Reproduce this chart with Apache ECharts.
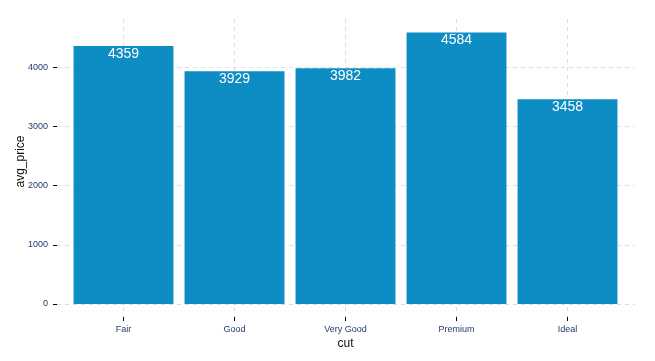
<!DOCTYPE html>
<html>
<head>
<meta charset="utf-8">
<script src="https://cdn.jsdelivr.net/npm/echarts@6/dist/echarts.min.js"></script>
<style>html,body{margin:0;padding:0;background:#fff}#c{width:655px;height:361px}</style>
</head>
<body>
<div id="c"></div>
<script>
const categories = ['Fair', 'Good', 'Very Good', 'Premium', 'Ideal'];
const avgPrice = [4359, 3929, 3982, 4584, 3458];
const yTicks = [0, 1000, 2000, 3000, 4000];
const yMax = 4813;

const chart = echarts.init(document.getElementById('c'), null, {renderer: 'canvas'});
const labelColor = '#24396b';
const gridColor = '#dedede';
const font = 'Arial, "Liberation Sans", sans-serif';

chart.setOption({
  animation: false,
  grid: [
    {left: 68, right: 32, top: 19, bottom: 57},
    {left: 57, right: 20, top: 19, bottom: 57},
    {left: 123.5, right: 87.5, top: 19, bottom: 44}
  ],
  xAxis: [
    {type: 'category', gridIndex: 0, data: categories, boundaryGap: true, show: false},
    {type: 'value', gridIndex: 1, show: false, min: 0, max: 1},
    {type: 'category', gridIndex: 2, data: categories, boundaryGap: false,
     axisLine: {show: false},
     axisTick: {show: true, length: 4, lineStyle: {color: '#000', width: 1}},
     splitLine: {show: true, lineStyle: {color: gridColor, type: [4, 4], width: 1}},
     axisLabel: {color: labelColor, fontSize: 9, fontFamily: font, margin: 8},
     name: 'cut', nameLocation: 'middle', nameGap: 21, nameMoveOverlap: false,
     nameTextStyle: {color: '#111', fontSize: 12, fontFamily: font}}
  ],
  yAxis: [
    {type: 'value', gridIndex: 0, min: 0, max: yMax, show: false},
    {type: 'value', gridIndex: 1, min: 0, max: yMax, interval: 1000,
     axisLine: {show: false},
     axisTick: {show: true, length: 4, customValues: yTicks, lineStyle: {color: '#000', width: 1}},
     splitLine: {show: true, lineStyle: {color: gridColor, type: [4, 4], width: 1}},
     axisLabel: {color: labelColor, fontSize: 9, fontFamily: font, margin: 9, customValues: yTicks,
       formatter: function (v) { return String(v); }},
     name: 'avg_price', nameLocation: 'middle', nameGap: 30, nameMoveOverlap: false,
     nameTextStyle: {color: '#111', fontSize: 12, fontFamily: font}},
    {type: 'value', gridIndex: 2, show: false, min: 0, max: 1}
  ],
  series: [{
    type: 'bar',
    xAxisIndex: 0, yAxisIndex: 0,
    data: avgPrice,
    barWidth: '90%',
    itemStyle: {color: '#0e8dc4'},
    label: {show: true, position: 'insideTop', distance: 1, color: '#fff', fontSize: 14, fontFamily: font}
  }]
});
</script>
</body>
</html>
